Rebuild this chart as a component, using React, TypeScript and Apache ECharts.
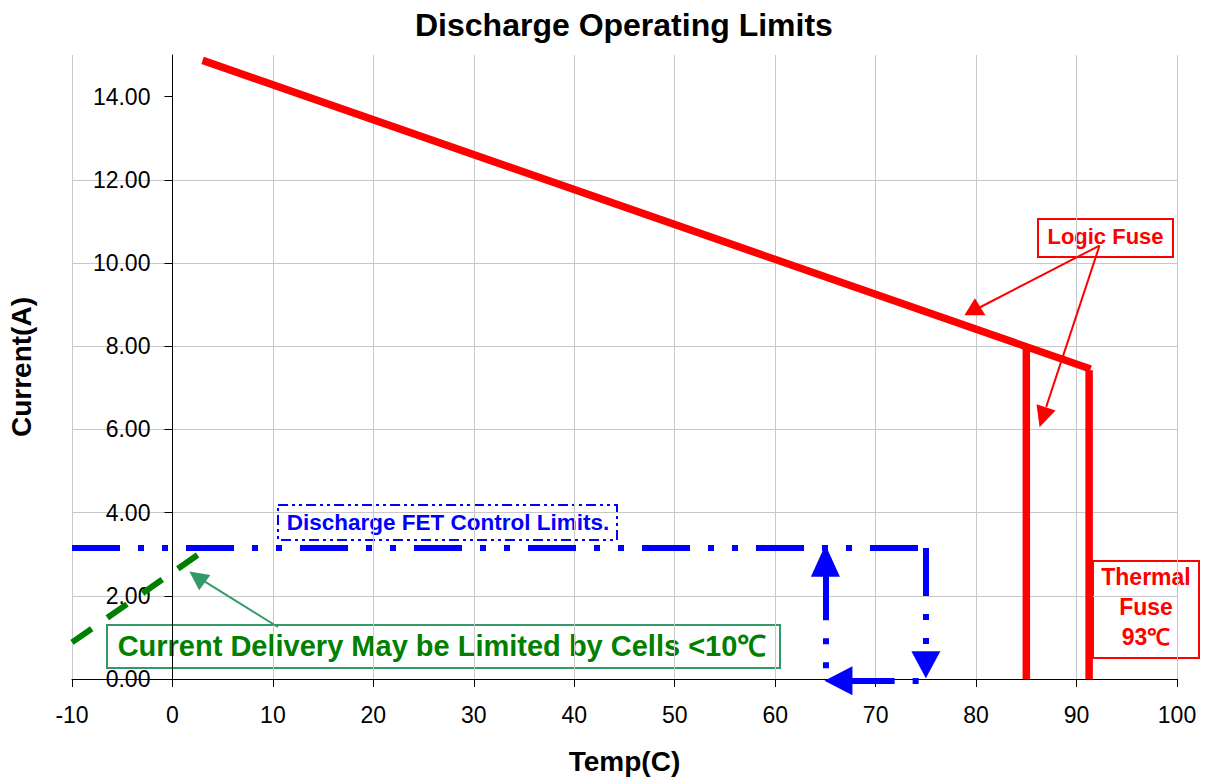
import React, { useEffect, useRef } from "react";
import * as echarts from "echarts";

// ---- data ----
const xMin = -10;
const xMax = 100;
const xStep = 10;
const yMin = 0;
const yMax = 15;
const yStep = 2;
const yTickValues = [0, 2, 4, 6, 8, 10, 12, 14];

// Logic fuse limit (slanted) and the two vertical drops
const logicFuseLine: [number, number][] = [[3, 14.87], [91.4, 7.45]];
const logicFuseDrop: [number, number][] = [[85, 7.97], [85, 0]];
const thermalFuseDrop: [number, number][] = [[91.25, 7.42], [91.25, 0]];
// Discharge FET control limit
const fetLimitLine: [number, number][] = [[-10, 3.15], [75, 3.15]];
// Cell-limited current (< 10 C)
const cellLimitLine: [number, number][] = [[-10, 0.88], [3.8, 3.2]];

// FET control-limit arrows (shaft start / end in data units)
const fetArrowDown: [number, number][] = [[75, 3.15], [75, 0.34]];
const fetArrowLeft: [number, number][] = [[74.28, -0.05], [66.3, -0.05]];
const fetArrowUp: [number, number][] = [[65, 0.26], [65, 2.84]];

// Callout arrows (data units)
const logicCalloutA: [number, number][] = [[92.29, 10.42], [80.35, 8.93]];
const logicCalloutB: [number, number][] = [[92.29, 10.42], [86.98, 6.54]];
const cellCallout: [number, number][] = [[10.5, 1.25], [2.5, 2.45]];

const FONT = "'Liberation Sans', Arial, sans-serif";
const BLUE = "#0000ff";
const RED = "#ff0000";
const GREEN = "#008000";
const CALLOUT_GREEN = "#339966";
const GRID_COLOR = "#c8c8c8";

const FET_DASH = [48, 18, 6, 18, 6, 18];

// layout
const GRID_LEFT = 72;
const GRID_RIGHT = 29;
const CHART_W = 1206;
const PX_PER_X = (CHART_W - GRID_LEFT - GRID_RIGHT) / (xMax - xMin);
const Y_AXIS_OFFSET = -(0 - xMin) * PX_PER_X; // put the y axis at x = 0

export default function App() {
  const ref = useRef<HTMLDivElement>(null);

  useEffect(() => {
    if (!ref.current) return;
    const chart = echarts.init(ref.current, undefined, { renderer: "svg" });

    const head = (
      p: [number, number],
      size: [number, number],
      rotate: number,
      color: string
    ) => ({
      value: p,
      symbol: "triangle",
      symbolSize: size,
      symbolRotate: rotate,
      itemStyle: { color, opacity: 1 },
    });

    const solid = (color: string, width: number) => ({
      color,
      width,
      type: "solid",
      opacity: 1,
    });

    const option: any = {
      animation: false,
      backgroundColor: "#ffffff",
      title: {
        text: "Discharge Operating Limits",
        left: 410,
        top: 4,
        textStyle: {
          fontFamily: FONT,
          fontSize: 32,
          fontWeight: "bold",
          color: "#000",
        },
      },
      grid: {
        left: GRID_LEFT,
        right: GRID_RIGHT,
        top: 55,
        bottom: 102,
        containLabel: false,
        outerBoundsMode: "none",
      },
      xAxis: {
        type: "value",
        min: xMin,
        max: xMax,
        interval: xStep,
        z: 0,
        name: "Temp(C)",
        nameLocation: "middle",
        nameGap: 68,
        nameTextStyle: {
          fontFamily: FONT,
          fontSize: 28,
          fontWeight: "bold",
          color: "#000",
        },
        axisLine: { show: true, onZero: false, lineStyle: { color: "#000", width: 1 } },
        axisTick: { show: true, length: 8, lineStyle: { color: "#000" } },
        axisLabel: {
          fontFamily: FONT,
          fontSize: 23,
          color: "#000",
          margin: 24,
        },
        splitLine: { show: true, lineStyle: { color: GRID_COLOR, width: 1 } },
      },
      yAxis: {
        type: "value",
        min: yMin,
        max: yMax,
        interval: yStep,
        z: 1,
        position: "left",
        offset: Y_AXIS_OFFSET,
        name: "Current(A)",
        nameLocation: "middle",
        nameRotate: 90,
        nameGap: 137,
        nameTextStyle: {
          fontFamily: FONT,
          fontSize: 28,
          fontWeight: "bold",
          color: "#000",
        },
        axisLine: {
          show: true,
          onZero: false,
          lineStyle: { color: "#000", width: 1 },
        },
        axisTick: {
          show: true,
          length: 8,
          lineStyle: { color: "#000" },
          customValues: yTickValues,
        },
        axisLabel: {
          fontFamily: FONT,
          fontSize: 23,
          color: "#000",
          margin: 22,
          customValues: yTickValues,
          formatter: (v: number) => v.toFixed(2),
        },
        splitLine: {
          show: true,
          showMinLine: false,
          showMaxLine: false,
          lineStyle: { color: GRID_COLOR, width: 1 },
        },
      },
      series: [
        {
          name: "Cell limit",
          type: "line",
          data: cellLimitLine,
          symbol: "none",
          z: 3,
          lineStyle: { color: GREEN, width: 6, type: [24, 19] },
        },
        {
          name: "FET control limit",
          type: "line",
          data: fetLimitLine,
          symbol: "none",
          z: 4,
          lineStyle: { color: BLUE, width: 6, type: FET_DASH },
        },
        {
          name: "Logic fuse",
          type: "line",
          data: logicFuseLine,
          symbol: "none",
          z: 5,
          lineStyle: { color: RED, width: 7.5 },
        },
        {
          name: "Logic fuse drop",
          type: "line",
          data: logicFuseDrop,
          symbol: "none",
          z: 5,
          lineStyle: { color: RED, width: 7.5 },
        },
        {
          name: "Thermal fuse drop",
          type: "line",
          data: thermalFuseDrop,
          symbol: "none",
          z: 5,
          lineStyle: { color: RED, width: 7.5 },
        },
        {
          name: "Arrow shafts",
          type: "lines",
          coordinateSystem: "cartesian2d",
          clip: false,
          z: 6,
          symbol: ["none", "none"],
          lineStyle: { opacity: 1 },
          data: [
            {
              coords: fetArrowDown,
              lineStyle: { color: BLUE, width: 6, type: [48, 18, 6, 18, 6, 18], opacity: 1 },
            },
            {
              coords: fetArrowLeft,
              lineStyle: { color: BLUE, width: 6, type: [6, 18, 48, 18, 6, 18], opacity: 1 },
            },
            {
              coords: fetArrowUp,
              lineStyle: { color: BLUE, width: 6, type: [6, 18, 6, 18, 48, 18], opacity: 1 },
            },
            { coords: logicCalloutA, lineStyle: solid(RED, 2) },
            { coords: logicCalloutB, lineStyle: solid(RED, 2) },
            { coords: cellCallout, lineStyle: solid(CALLOUT_GREEN, 2) },
          ],
        },
        {
          name: "Arrow heads",
          type: "scatter",
          clip: false,
          z: 7,
          data: [
            head([75, 0.34], [29, 27], 180, BLUE),
            head([66.3, -0.04], [29, 28], 90, BLUE),
            head([65, 2.84], [29, 32], 0, BLUE),
            head([79.88, 8.95], [21, 17], 0, RED),
            head([86.64, 6.29], [20, 21], 162, RED),
            head([2.45, 2.45], [19, 19], 54, CALLOUT_GREEN),
          ],
        },
      ],
      graphic: [
        {
          type: "group",
          z: 100,
          children: [
            {
              type: "rect",
              shape: { x: 278, y: 505, width: 339, height: 35 },
              style: {
                fill: "#fff",
                stroke: BLUE,
                lineWidth: 2,
                lineDash: [10, 4, 3, 4, 3, 4],
              },
            },
            {
              type: "text",
              x: 448,
              y: 522.5,
              style: {
                text: "Discharge FET Control Limits.",
                fill: BLUE,
                font: `bold 22.5px ${FONT}`,
                align: "center",
                verticalAlign: "middle",
              },
            },
          ],
        },
        {
          type: "group",
          z: 100,
          children: [
            {
              type: "rect",
              shape: { x: 1038, y: 219, width: 135, height: 38 },
              style: { fill: "#fff", stroke: RED, lineWidth: 2 },
            },
            {
              type: "text",
              x: 1105.5,
              y: 236,
              style: {
                text: "Logic Fuse",
                fill: RED,
                font: `bold 22px ${FONT}`,
                align: "center",
                verticalAlign: "middle",
              },
            },
          ],
        },
        {
          type: "group",
          z: 100,
          children: [
            {
              type: "rect",
              shape: { x: 1093, y: 561, width: 106, height: 97 },
              style: { fill: "#fff", stroke: RED, lineWidth: 2 },
            },
            {
              type: "text",
              x: 1146,
              y: 607,
              style: {
                text: "Thermal\nFuse\n93℃",
                fill: RED,
                font: `bold 23px ${FONT}`,
                lineHeight: 30,
                align: "center",
                verticalAlign: "middle",
              },
            },
          ],
        },
        {
          type: "group",
          z: 100,
          children: [
            {
              type: "rect",
              shape: { x: 107, y: 625, width: 673, height: 43 },
              style: { fill: "#fff", stroke: CALLOUT_GREEN, lineWidth: 2 },
            },
            {
              type: "text",
              x: 442,
              y: 646,
              style: {
                text: "Current Delivery May be Limited by Cells <10℃",
                fill: GREEN,
                font: `bold 29px ${FONT}`,
                align: "center",
                verticalAlign: "middle",
              },
            },
          ],
        },
      ],
    };

    chart.setOption(option);
    return () => chart.dispose();
  }, []);

  return (
    <div
      ref={ref}
      style={{ position: "absolute", left: 0, top: 0, width: 1206, height: 781 }}
    />
  );
}
